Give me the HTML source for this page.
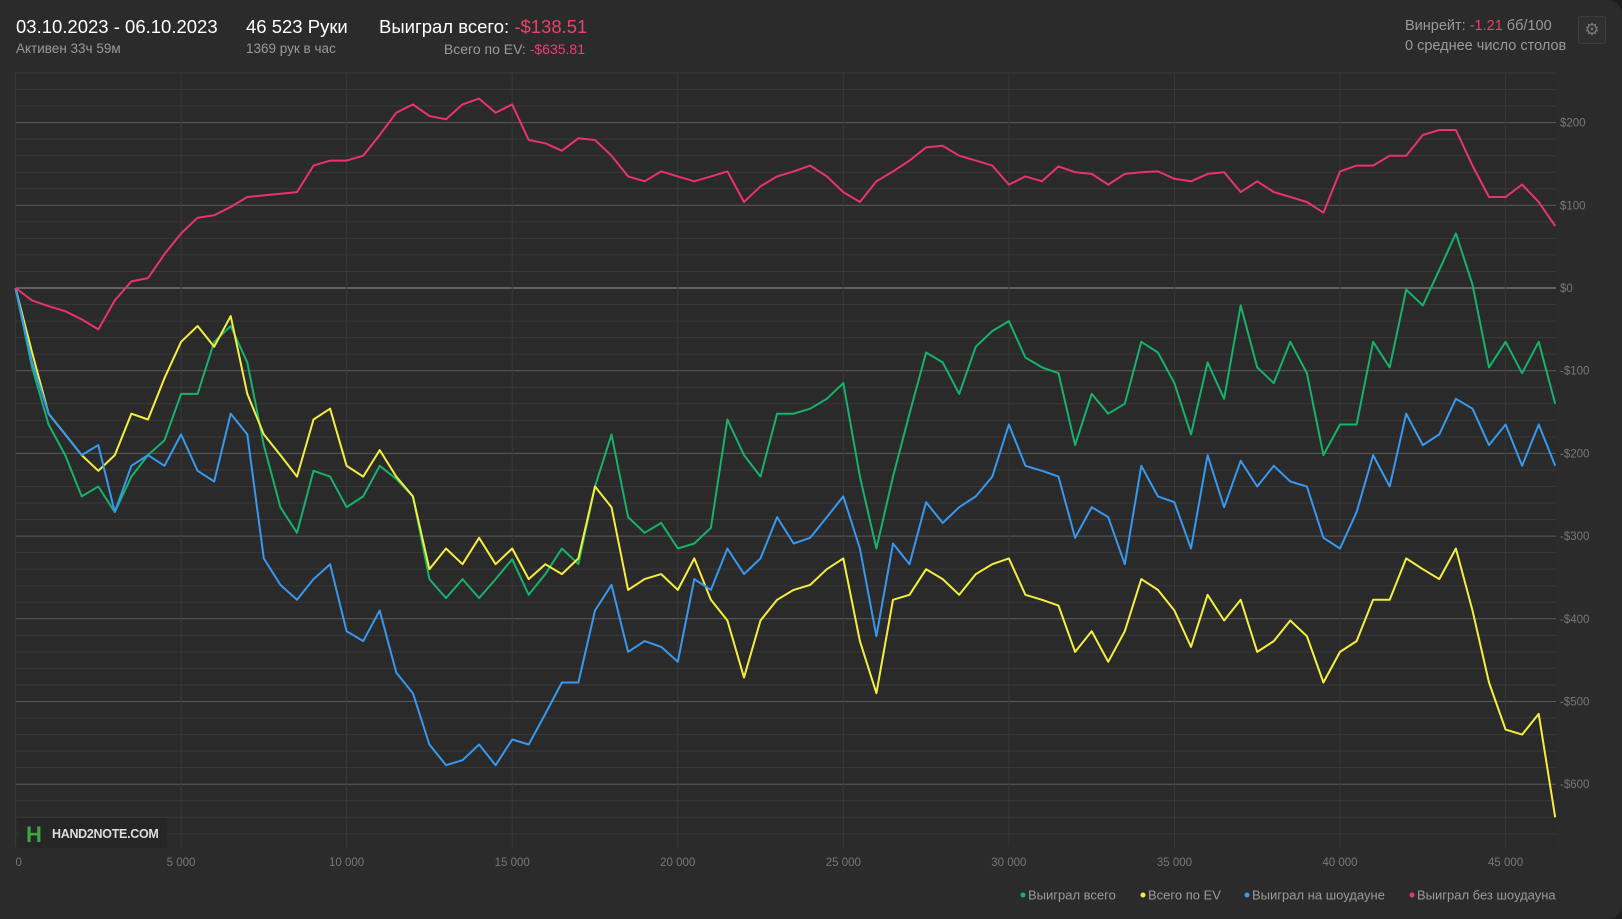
<!DOCTYPE html>
<html><head><meta charset="utf-8">
<style>
html,body{margin:0;padding:0;background:#1e1e1e;}
body{width:1622px;height:919px;overflow:hidden;position:relative;font-family:"Liberation Sans",sans-serif;}
#card{position:absolute;left:0;top:0;width:1622px;height:919px;background:#2b2b2b;border-radius:0 14px 14px 0;}
.t{position:absolute;white-space:nowrap;}
.big{font-size:18.5px;color:#fff;}
.sm{font-size:13.5px;color:#9a9a9a;}
.neg{color:#e8416f;}
</style></head>
<body>
<div id="card">
<div class="t big" style="left:16px;top:16px">03.10.2023 - 06.10.2023</div>
<div class="t sm" style="left:16px;top:41px">Активен 33ч 59м</div>
<div class="t big" style="left:246px;top:16px">46 523 Руки</div>
<div class="t sm" style="left:246px;top:41px">1369 рук в час</div>
<div class="t big" style="left:379px;top:16px">Выиграл всего: <span class="neg">-$138.51</span></div>
<div class="t sm" style="right:1037px;top:41px;font-size:14px">Всего по EV: <span class="neg">-$635.81</span></div>
<div class="t sm" style="left:1405px;top:18px;font-size:14.5px">Винрейт: <span class="neg">-1.21</span> бб/100</div>
<div class="t sm" style="left:1405px;top:38px;font-size:14.5px">0 среднее число столов</div>
<div style="position:absolute;left:1578px;top:16px;width:26px;height:26px;border:1px solid #3c3c3c;border-radius:3px;background:#2f2f2f;color:#777;font-size:17px;text-align:center;line-height:26px;">⚙</div>
<svg id="chart" width="1622" height="919" style="position:absolute;left:0;top:0"></svg>
</div>
<script>
const handsStep = 500;
const pinkVals = [0,-15,-22,-28,-38,-50,-15,8,12,41,66,85,88,98,110,112,114,116,148,154,154,160,185,212,222,208,204,222,229,212,222,179,175,166,181,179,160,135,129,141,135,129,135,141,104,123,135,141,148,135,116,104,129,141,154,170,172,160,154,148,125,135,129,147,140,138,125,138,140,141,132,129,138,140,116,129,116,110,104,91,141,148,148,160,160,185,191,191,148,110,110,125,104,75];
const greenVals = [0,-96,-165,-202,-252,-240,-271,-228,-202,-184,-128,-128,-65,-46,-90,-190,-265,-296,-221,-228,-265,-252,-215,-231,-252,-352,-375,-352,-375,-352,-328,-371,-346,-315,-334,-240,-177,-277,-296,-284,-315,-309,-290,-159,-202,-228,-152,-152,-146,-134,-115,-228,-315,-228,-152,-78,-90,-128,-71,-52,-40,-84,-96,-103,-190,-128,-152,-140,-65,-78,-115,-177,-90,-134,-21,-96,-115,-65,-103,-202,-165,-165,-65,-96,-2,-21,22,66,4,-96,-65,-103,-65,-140];
const blueVals = [0,-90,-152,-177,-202,-190,-271,-215,-202,-215,-177,-221,-234,-152,-177,-327,-359,-377,-352,-334,-415,-427,-390,-465,-490,-552,-577,-571,-552,-577,-546,-552,-515,-477,-477,-390,-359,-440,-427,-434,-452,-352,-365,-315,-346,-327,-277,-309,-302,-277,-252,-315,-421,-309,-334,-259,-284,-265,-252,-228,-165,-215,-221,-228,-302,-265,-277,-334,-215,-252,-259,-315,-202,-265,-209,-240,-215,-234,-240,-302,-315,-271,-202,-240,-152,-190,-177,-134,-146,-190,-165,-215,-165,-215];
const yellowVals = [0,-78,-152,-177,-202,-221,-202,-152,-159,-109,-65,-46,-71,-34,-128,-177,-202,-228,-159,-146,-215,-228,-196,-228,-252,-340,-315,-334,-302,-334,-315,-352,-334,-346,-327,-240,-265,-365,-352,-346,-365,-327,-377,-402,-471,-402,-377,-365,-359,-340,-327,-427,-490,-377,-371,-340,-352,-371,-346,-334,-327,-371,-377,-384,-440,-415,-452,-415,-352,-365,-390,-434,-371,-402,-377,-440,-427,-402,-421,-477,-440,-427,-377,-377,-327,-340,-352,-315,-390,-477,-534,-540,-515,-640];
const xTicks = [0,5000,10000,15000,20000,25000,30000,35000,40000,45000];
const xTickLabels = ["0","5 000","10 000","15 000","20 000","25 000","30 000","35 000","40 000","45 000"];
const yTicks = [200,100,0,-100,-200,-300,-400,-500,-600];
const yTickLabels = ["$200","$100","$0","-$100","-$200","-$300","-$400","-$500","-$600"];
const legendNames = ["Выиграл всего","Всего по EV","Выиграл на шоудауне","Выиграл без шоудауна"];

const NS="http://www.w3.org/2000/svg";
const svg=document.getElementById('chart');
const L=15.5,R=1556,T=73,B=847,maxH=46523;
const xs=h=>L+(h/maxH)*(R-L);
const ys=v=>288-v*0.827;
function mk(tag,attrs){const e=document.createElementNS(NS,tag);for(const k in attrs)e.setAttribute(k,attrs[k]);svg.appendChild(e);return e;}
const bg=mk('rect',{x:L,y:T,width:R-L,height:B-T,fill:'#2a2a2a'});


for(let v=260;v>=-680;v-=20){
  const y=ys(v); if(y<T-0.5||y>B+0.5)continue;
  const major=(v%100===0);
  const g=mk('line',{x1:L,x2:R,y1:y,y2:y,stroke:v===0?'#9a9a9a':(major?'#5a5a5a':'#383838'),'stroke-width':1});
  
  
}
xTicks.forEach((h,i)=>{
  const x=xs(h);
  const g=mk('line',{x1:x,x2:x,y1:T,y2:B,stroke:'#383838','stroke-width':1});
  
  
  const t=mk('text',{x:x,y:866,fill:'#777','font-size':11.5,'text-anchor':i===0?'start':'middle','font-family':'Liberation Sans, sans-serif'});
  t.textContent=xTickLabels[i];
  
  
});
yTicks.forEach((v,i)=>{
  const t=mk('text',{x:1560,y:ys(v)+4,fill:'#777','font-size':11.5,'font-family':'Liberation Sans, sans-serif'});
  t.textContent=yTickLabels[i];
  
  
});
function series(vals,color,name){
  const d=vals.map((v,i)=>(i?'L':'M')+xs(Math.min(i*handsStep,maxH)).toFixed(1)+','+ys(v).toFixed(1)).join(' ');
  const p=mk('path',{d:d,fill:'none',stroke:color,'stroke-width':2,'stroke-linejoin':'round'});
  
  
}
series(greenVals,'#17b26a','line-total-won');
series(yellowVals,'#f4ee3f','line-total-ev');
series(blueVals,'#3798ee','line-showdown');
series(pinkVals,'#e8336e','line-non-showdown');
const lg=mk('rect',{x:19,y:818,width:148,height:30,fill:'#262626'});


const lh=mk('text',{x:26,y:842,fill:'#3fa640','font-size':22,'font-weight':'bold','font-family':'Liberation Sans, sans-serif'});
lh.textContent='H';


const lt=mk('text',{x:52,y:838,fill:'#ddd','font-size':12.5,'font-weight':'bold','font-family':'Liberation Sans, sans-serif','letter-spacing':-0.3});
lt.textContent='HAND2NOTE.COM';


const legColors=['#17b26a','#f4ee3f','#3798ee','#e8336e'];
const legX=[1028,1148,1252,1417];
legendNames.forEach((n,i)=>{
  const c=mk('circle',{cx:legX[i]-5,cy:895,r:2.5,fill:legColors[i]});
  
  
  const t=mk('text',{x:legX[i],y:899.5,fill:'#9a9a9a','font-size':13,'font-family':'Liberation Sans, sans-serif'});
  t.textContent=n;
  
  
});
</script>
</body></html>
